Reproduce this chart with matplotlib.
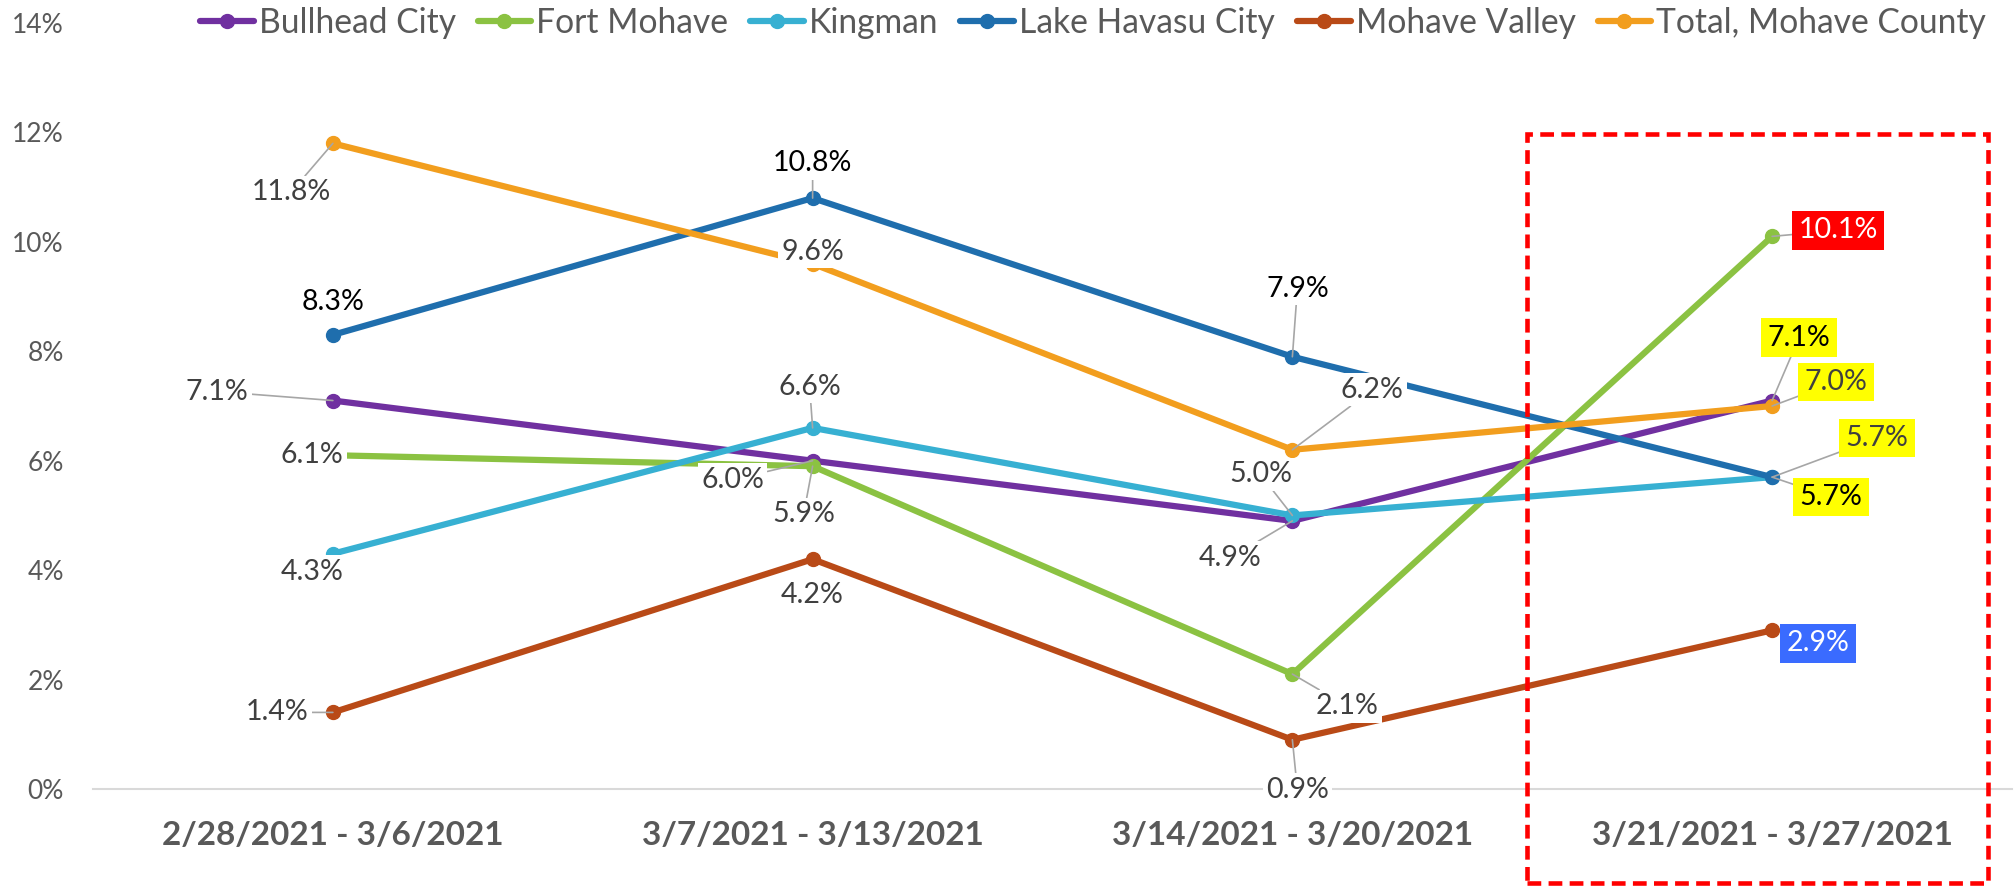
import matplotlib
matplotlib.use("Agg")
import matplotlib.pyplot as plt
from matplotlib.patches import Rectangle
from matplotlib.ticker import PercentFormatter

plt.rcParams["font.family"] = ["Lato", "DejaVu Sans"]

# ---- data (percent) ----
weeks = [
    "2/28/2021 - 3/6/2021",
    "3/7/2021 - 3/13/2021",
    "3/14/2021 - 3/20/2021",
    "3/21/2021 - 3/27/2021",
]
bullhead_city = [7.1, 6.0, 4.9, 7.1]
fort_mohave = [6.1, 5.9, 2.1, 10.1]
kingman = [4.3, 6.6, 5.0, 5.7]
lake_havasu_city = [8.3, 10.8, 7.9, 5.7]
mohave_valley = [1.4, 4.2, 0.9, 2.9]
total_mohave = [11.8, 9.6, 6.2, 7.0]

series = [
    ("Bullhead City", bullhead_city, "#7030A0"),
    ("Fort Mohave", fort_mohave, "#8BC242"),
    ("Kingman", kingman, "#37B0D2"),
    ("Lake Havasu City", lake_havasu_city, "#1F6EAD"),
    ("Mohave Valley", mohave_valley, "#B94A17"),
    ("Total, Mohave County", total_mohave, "#F29E1E"),
]

# label layout: offset in image pixels (dx right, dy down), text colour, box colour, leader line
GRAY, BLACK = "#404040", "#000000"
label_style = {
    "Bullhead City": [((-116, -9), GRAY, "white", True), ((-80, 19), GRAY, "white", True),
                      ((-62, 37), GRAY, "white", True), ((27, -63), BLACK, "#FFFF00", True)],
    "Fort Mohave": [((-21, 0), GRAY, "white", False), ((-9, 48), GRAY, "white", True),
                    ((55, 32), GRAY, "white", True), ((66, -6), "white", "#FF0000", True)],
    "Kingman": [((-21, 18), GRAY, "white", False), ((-3, -41), GRAY, "white", True),
                ((-32, -41), GRAY, "white", True), ((105, -39), GRAY, "#FFFF00", True)],
    "Lake Havasu City": [((0, -33), BLACK, "white", False), ((0, -35), BLACK, "white", True),
                         ((5, -68), BLACK, "white", True), ((59, 20), BLACK, "#FFFF00", True)],
    "Mohave Valley": [((-56, 0), GRAY, "white", True), ((0, 36), GRAY, "white", False),
                      ((5, 50), GRAY, "white", True), ((46, 13), "white", "#3A6BFF", False)],
    "Total, Mohave County": [((-42, 49), GRAY, "white", True), ((0, -12), GRAY, "white", False),
                             ((80, -60), GRAY, "white", True), ((64, -24), GRAY, "#FFFF00", True)],
}

W, H = 2016, 886
fig = plt.figure(figsize=(W / 100, H / 100), dpi=100)
ax = fig.add_axes([93 / W, 1 - 789 / H, (2012 - 93) / W, (789 - 23) / H])

x = list(range(len(weeks)))
handles = []
for name, vals, color in series:
    (ln,) = ax.plot(x, vals, color=color, lw=4.5, marker="o", markersize=10,
                    solid_capstyle="round", label=name, zorder=2)
    handles.append(ln)

for name, vals, color in series:
    for i, v in enumerate(vals):
        (dx, dy), tcol, bcol, leader = label_style[name][i]
        pad = 0.22 if bcol != "white" else 0.12
        arrow = dict(arrowstyle="-", color="#A6A6A6", lw=1.2, shrinkA=0, shrinkB=0) if leader else None
        ax.annotate(f"{v:.1f}%", xy=(i, v), xytext=(dx, -dy), textcoords="offset pixels",
                    ha="center", va="center", fontsize=20.5, color=tcol,
                    bbox=dict(boxstyle=f"square,pad={pad}", fc=bcol, ec="none"),
                    arrowprops=arrow, zorder=5, annotation_clip=False)

ax.set_xlim(-0.5, len(weeks) - 0.5)
ax.set_ylim(0, 14)
ax.set_yticks(range(0, 15, 2))
ax.yaxis.set_major_formatter(PercentFormatter(xmax=100, decimals=0))
ax.set_xticks(x)
ax.set_xticklabels(weeks, fontsize=24, fontweight="bold", color="#595959")
ax.tick_params(axis="y", length=0, pad=21, labelsize=19, labelcolor="#595959")
ax.tick_params(axis="x", length=0, pad=23)
for side in ("top", "right", "left"):
    ax.spines[side].set_visible(False)
ax.spines["bottom"].set_color("#D9D9D9")
ax.spines["bottom"].set_linewidth(1.5)

fig.legend(handles=handles, loc="center", bbox_to_anchor=(1093 / W, 1 - 23 / H), ncol=6,
           frameon=False, fontsize=24.2, handlelength=1.6, handletextpad=0.15,
           columnspacing=0.65, labelcolor="#595959")

# highlight of the latest week
fig.patches.append(Rectangle((1527 / W, 1 - 883 / H), (1988 - 1527) / W, (883 - 134) / H,
                             transform=fig.transFigure, fill=False, edgecolor="#FF0000",
                             lw=3.3, linestyle=(0, (3, 1.6)), zorder=10))

fig.savefig("out.png", dpi=100)
